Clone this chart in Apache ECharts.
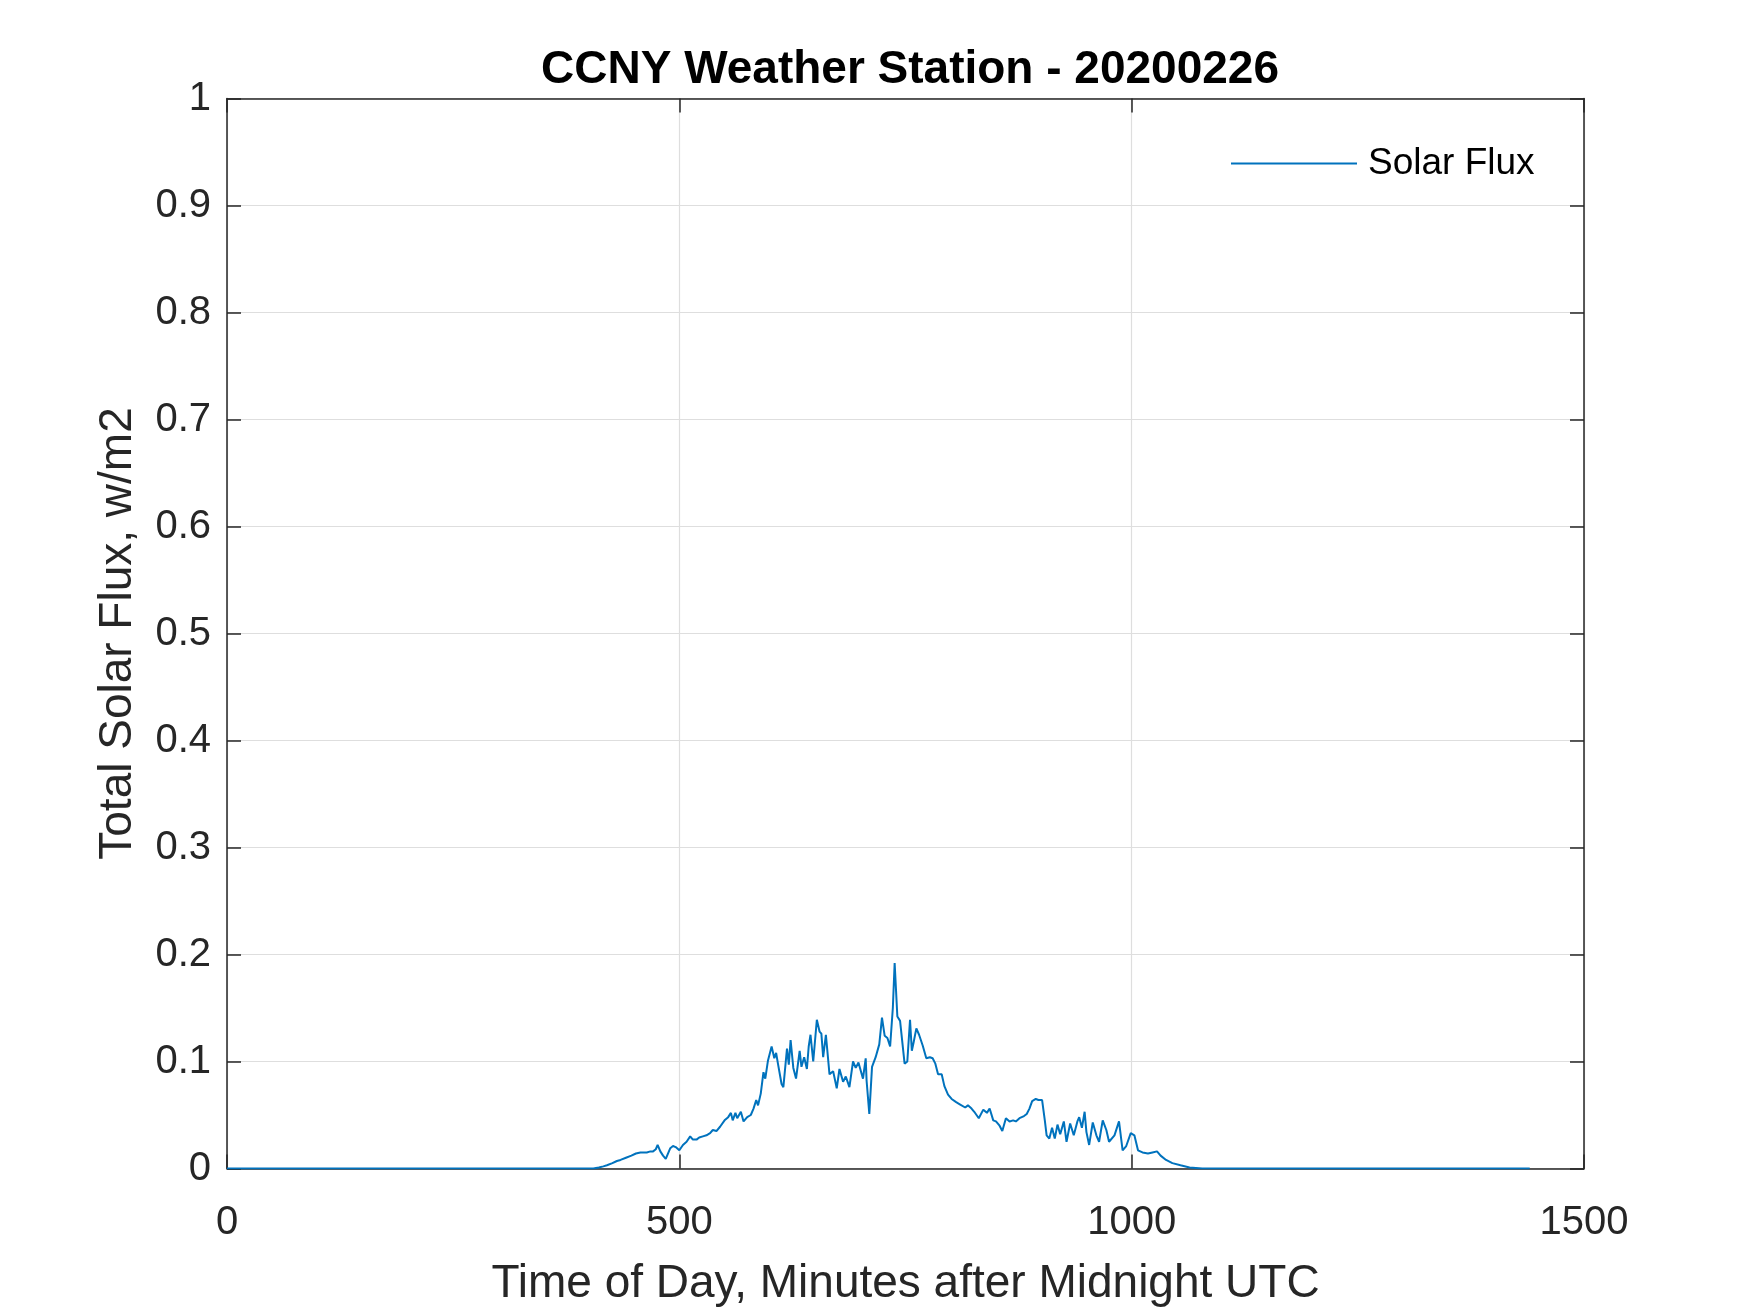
<!DOCTYPE html>
<html>
<head>
<meta charset="utf-8">
<title>CCNY Weather Station - 20200226</title>
<script src="https://cdn.jsdelivr.net/npm/echarts@6/dist/echarts.min.js"></script>
<style>
  html, body { margin: 0; padding: 0; background: #fff; }
  #chart { width: 1750px; height: 1313px; }
</style>
</head>
<body>
<div id="chart"></div>
<script>
// minutes after midnight UTC
const minutes = [
  0, 405, 411, 416, 420, 426, 431, 435, 441, 447, 452, 457, 464, 468, 471, 474, 476, 479, 482, 485,
  487, 490, 493, 496, 500, 504, 508, 512, 515, 519, 522, 526, 530, 534, 537, 541, 545, 550, 554, 557,
  559, 562, 564, 568, 571, 575, 579, 582, 585, 587, 590, 593, 595, 598, 602, 605, 607, 609, 613, 615,
  619, 621, 623, 626, 629, 633, 635, 638, 641, 643, 645, 648, 652, 655, 657, 659, 662, 666, 670, 674,
  677, 681, 684, 688, 692, 695, 698, 700, 703, 706, 707, 710, 713, 717, 721, 724, 727, 730, 733, 736,
  738, 741, 744, 749, 752, 755, 757, 759, 762, 765, 769, 773, 777, 780, 783, 786, 790, 793, 797, 801,
  806, 810, 816, 819, 823, 826, 831, 836, 840, 843, 847, 850, 854, 857, 861, 865, 869, 872, 876, 881,
  884, 887, 890, 894, 897, 901, 904, 906, 909, 912, 915, 918, 921, 925, 928, 932, 936, 940, 942, 945,
  948, 950, 953, 957, 961, 964, 968, 972, 975, 981, 986, 990, 994, 999, 1003, 1007, 1012, 1018, 1023, 1028,
  1032, 1038, 1045, 1054, 1064, 1078, 1440
];

// total solar flux, w/m2
const flux = [
  0, 0, 0.001, 0.002, 0.003, 0.005, 0.007, 0.008, 0.010, 0.012, 0.014, 0.015, 0.015, 0.016, 0.016, 0.018, 0.022, 0.016, 0.012, 0.009,
  0.008, 0.019, 0.021, 0.020, 0.017, 0.022, 0.025, 0.030, 0.027, 0.027, 0.029, 0.030, 0.031, 0.033, 0.036, 0.035, 0.039, 0.045, 0.048, 0.052,
  0.045, 0.052, 0.047, 0.053, 0.044, 0.048, 0.050, 0.056, 0.064, 0.059, 0.070, 0.090, 0.084, 0.101, 0.114, 0.103, 0.108, 0.098, 0.079, 0.076,
  0.112, 0.097, 0.120, 0.094, 0.084, 0.110, 0.095, 0.104, 0.093, 0.114, 0.125, 0.100, 0.139, 0.128, 0.126, 0.104, 0.125, 0.088, 0.091, 0.075,
  0.093, 0.081, 0.086, 0.076, 0.100, 0.094, 0.099, 0.093, 0.084, 0.103, 0.082, 0.051, 0.095, 0.104, 0.116, 0.141, 0.124, 0.122, 0.114, 0.150,
  0.192, 0.142, 0.138, 0.098, 0.100, 0.139, 0.110, 0.118, 0.131, 0.125, 0.115, 0.103, 0.104, 0.103, 0.098, 0.088, 0.088, 0.077, 0.069, 0.065,
  0.062, 0.060, 0.057, 0.059, 0.056, 0.053, 0.047, 0.055, 0.052, 0.056, 0.045, 0.044, 0.040, 0.035, 0.047, 0.044, 0.045, 0.044, 0.047, 0.049,
  0.051, 0.056, 0.063, 0.065, 0.064, 0.064, 0.045, 0.031, 0.028, 0.038, 0.028, 0.041, 0.032, 0.044, 0.025, 0.042, 0.031, 0.044, 0.048, 0.038,
  0.053, 0.034, 0.022, 0.043, 0.031, 0.025, 0.045, 0.036, 0.025, 0.031, 0.044, 0.017, 0.021, 0.033, 0.031, 0.017, 0.015, 0.014, 0.015, 0.016,
  0.012, 0.008, 0.005, 0.003, 0.001, 0, 0
];

const xTicks = { min: 0, max: 1500, step: 500 };
const yTicks = { min: 0, max: 1, step: 0.1 };

const FONT = 'Liberation Sans, Arial, Helvetica, sans-serif';
const AXIS_COLOR = '#262626';
const GRID_COLOR = '#dedede';

const chart = echarts.init(document.getElementById('chart'));

const lineData = minutes.map((m, i) => [m, flux[i]]);

// shared look for the box edges
function boxAxis(extra) {
  return Object.assign({
    axisLine: { show: true, onZero: false, lineStyle: { color: AXIS_COLOR, width: 1.5 } },
    axisTick: { show: true, inside: true, length: 14, lineStyle: { color: AXIS_COLOR, width: 1.5 } },
    splitLine: { show: false },
    axisLabel: { show: false }
  }, extra);
}

const option = {
  animation: false,
  backgroundColor: '#fff',
  title: {
    text: 'CCNY Weather Station - 20200226',
    left: 905,
    top: 42,
    textAlign: 'center',
    textStyle: { fontFamily: FONT, fontSize: 46, fontWeight: 'bold', color: '#000' }
  },
  legend: {
    left: 1226,
    top: 140,
    itemWidth: 126,
    itemHeight: 2,
    icon: 'rect',
    data: ['Solar Flux'],
    textStyle: { fontFamily: FONT, fontSize: 37, color: '#000', padding: [0, 0, 0, 6] }
  },
  grid: { left: 227, right: 166, top: 98.5, bottom: 144.5, containLabel: false },
  xAxis: [
    boxAxis({
      type: 'value', position: 'bottom',
      min: xTicks.min, max: xTicks.max, interval: xTicks.step,
      name: 'Time of Day, Minutes after Midnight UTC',
      nameLocation: 'middle', nameGap: 93,
      nameTextStyle: { fontFamily: FONT, fontSize: 46, color: AXIS_COLOR },
      axisLabel: {
        show: true, margin: 34, fontFamily: FONT, fontSize: 40, color: AXIS_COLOR,
        formatter: v => String(v)
      },
      splitLine: { show: true, lineStyle: { color: GRID_COLOR, width: 1.2 } }
    }),
    boxAxis({
      type: 'value', position: 'top',
      min: xTicks.min, max: xTicks.max, interval: xTicks.step
    })
  ],
  yAxis: [
    boxAxis({
      type: 'value', position: 'left',
      min: yTicks.min, max: yTicks.max, interval: yTicks.step,
      name: 'Total Solar Flux, w/m2',
      nameLocation: 'middle', nameGap: 86,
      nameTextStyle: { fontFamily: FONT, fontSize: 46, color: AXIS_COLOR },
      axisLabel: {
        show: true, margin: 16, fontFamily: FONT, fontSize: 40, color: AXIS_COLOR,
        formatter: v => String(Math.round(v * 10) / 10)
      },
      splitLine: { show: true, lineStyle: { color: GRID_COLOR, width: 1.2 } }
    }),
    boxAxis({
      type: 'value', position: 'right',
      min: yTicks.min, max: yTicks.max, interval: yTicks.step
    })
  ],
  series: [{
    name: 'Solar Flux',
    type: 'line',
    xAxisIndex: 0,
    yAxisIndex: 0,
    symbol: 'none',
    lineStyle: { color: '#0072BD', width: 2 },
    itemStyle: { color: '#0072BD' },
    data: lineData
  }]
};

chart.setOption(option);
</script>
</body>
</html>
